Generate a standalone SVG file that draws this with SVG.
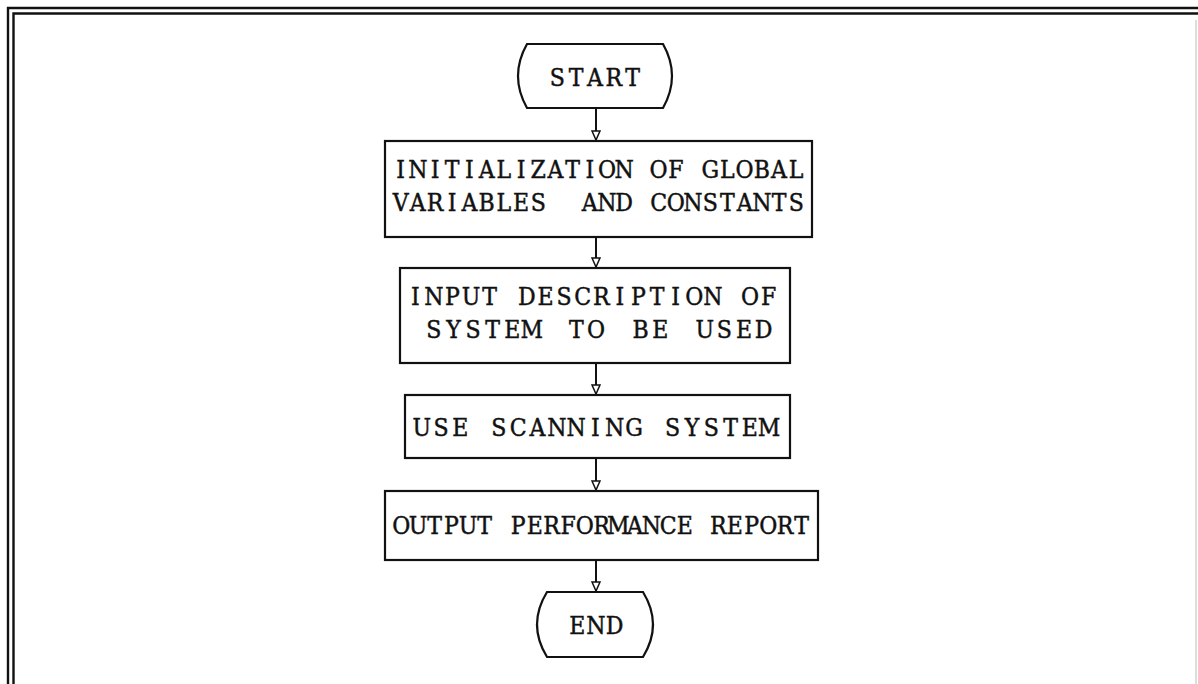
<svg xmlns="http://www.w3.org/2000/svg" width="1198" height="684" viewBox="0 0 1198 684">
<style>
.box{fill:#fff;stroke:#111;stroke-width:2.2}
.term{fill:#fff;stroke:#111;stroke-width:2.2}
.lbl{font-family:"DejaVu Serif","Liberation Serif",serif;font-size:24.5px;font-stretch:condensed;fill:#111;stroke:#111;stroke-width:0.45;text-anchor:middle}
.cn{stroke:#111;stroke-width:2;fill:none}
.frame{stroke:#111;stroke-width:2.4;fill:none}
</style>
<defs>
<marker id="ah" markerWidth="11" markerHeight="10" refX="10" refY="5" orient="auto" markerUnits="userSpaceOnUse" viewBox="0 0 11 10">
<path d="M1,1 L10,5 L1,9 Z" fill="#fff" stroke="#111" stroke-width="1.5"/>
</marker>
</defs>
<rect width="1198" height="684" fill="#fff"/>
<g id="frame">
<path class="frame" d="M8,684 V8 H1198"/>
<path class="frame" d="M13.5,684 V13.5 H1198"/>
<path d="M1196,20 V684" stroke="#bbb" stroke-width="1" fill="none"/>
</g>
<g id="connectors">
<line class="cn" x1="596" y1="108" x2="596" y2="140" marker-end="url(#ah)"/>
<line class="cn" x1="596" y1="237" x2="596" y2="267" marker-end="url(#ah)"/>
<line class="cn" x1="596" y1="363" x2="596" y2="394" marker-end="url(#ah)"/>
<line class="cn" x1="596" y1="458" x2="596" y2="490" marker-end="url(#ah)"/>
<line class="cn" x1="596" y1="560" x2="596" y2="591" marker-end="url(#ah)"/>
</g>
<g id="start">
<path class="term" d="M527,44 H663 Q681,76 663,108 H527 Q509,76 527,44 Z"/>
<text class="lbl" x="557.4 576.2 595.0 613.8 632.6" y="86">START</text>
</g>
<g id="init">
<rect class="box" x="385" y="141" width="427" height="96"/>
<text class="lbl" x="400.6 417.8 435.0 452.2 469.4 486.6 503.8 521.0 538.2 555.4 572.6 589.8 607.0 624.2 641.4 658.6 675.8 693.0 710.2 727.4 744.6 761.8 779.0 796.2" y="178">INITIALIZATION OF GLOBAL</text>
<text class="lbl" x="400.6 417.8 435.0 452.2 469.4 486.6 503.8 521.0 538.2 555.4 572.6 589.8 607.0 624.2 641.4 658.6 675.8 693.0 710.2 727.4 744.6 761.8 779.0 796.2" y="211" xml:space="preserve">VARIABLES  AND CONSTANTS</text>
</g>
<g id="input">
<rect class="box" x="400" y="268" width="390" height="95"/>
<text class="lbl" x="415.3 433.9 452.5 471.1 489.7 508.3 526.9 545.5 564.1 582.7 601.3 619.9 638.5 657.1 675.7 694.3 712.9 731.5 750.1 768.7" y="305">INPUT DESCRIPTION OF</text>
<text class="lbl" x="433.8 453.4 473.0 492.6 512.2 531.8 554.1 576.4 596.0 618.3 640.6 660.2 682.5 704.8 724.4 744.0 763.6" y="338">SYSTEM TO BE USED</text>
</g>
<g id="scan">
<rect class="box" x="405" y="395" width="385" height="63"/>
<text class="lbl" x="421.7 441.0 460.3 479.6 498.9 518.2 537.5 556.8 576.1 595.4 614.7 634.0 653.3 672.6 691.9 711.2 730.5 749.8 769.1" y="436">USE SCANNING SYSTEM</text>
</g>
<g id="output">
<rect class="box" x="385" y="491" width="433" height="69"/>
<text class="lbl" x="401.3 418.0 434.7 451.4 468.1 484.7 501.4 518.1 534.8 551.5 568.1 584.8 601.5 618.2 634.9 651.5 668.2 684.9 701.6 718.3 734.9 751.6 768.3 785.0 801.7" y="534">OUTPUT PERFORMANCE REPORT</text>
</g>
<g id="end">
<path class="term" d="M547,592 H643 Q663,624.5 643,657 H547 Q527,624.5 547,592 Z"/>
<text class="lbl" x="577.3 596.0 614.7" y="634">END</text>
</g>
</svg>
